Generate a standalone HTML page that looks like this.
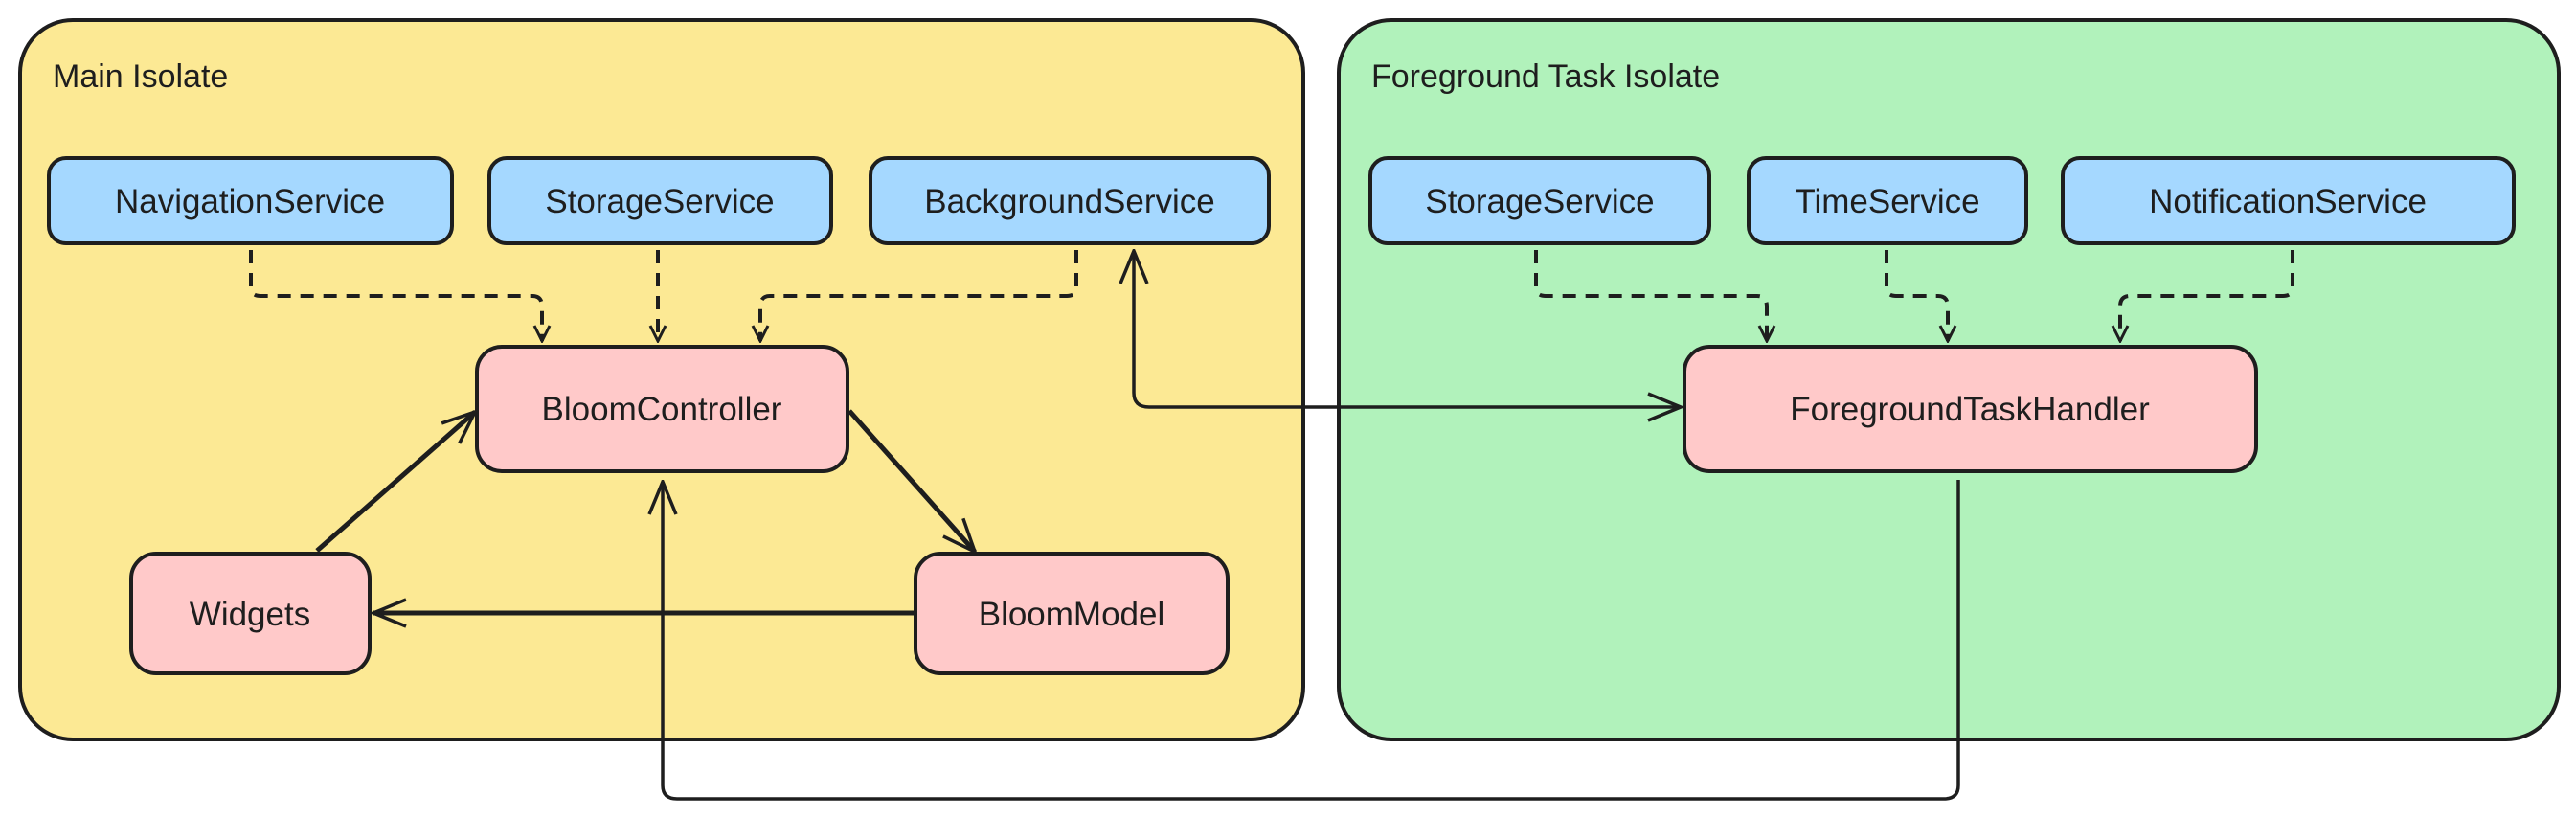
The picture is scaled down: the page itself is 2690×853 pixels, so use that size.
<!DOCTYPE html>
<html><head><meta charset="utf-8"><style>
html,body{margin:0;padding:0;background:#fff;}
svg{display:block}
text{font-family:"Liberation Sans",sans-serif;fill:#1e1e1e;}
</style></head><body>
<svg width="2690" height="853" viewBox="0 0 2690 853" xmlns="http://www.w3.org/2000/svg">
<defs>
<marker id="a" viewBox="0 0 20 20" refX="18" refY="10" markerWidth="20" markerHeight="20" markerUnits="userSpaceOnUse" orient="auto"><path d="M2,2 L18,10 L2,18" fill="none" stroke="#1e1e1e" stroke-width="3"/></marker>
<marker id="b" viewBox="0 0 40 40" refX="38" refY="20" markerWidth="40" markerHeight="40" markerUnits="userSpaceOnUse" orient="auto-start-reverse"><path d="M4,6 L38,20 L4,34" fill="none" stroke="#1e1e1e" stroke-width="3.5"/></marker>
</defs>
<g stroke="#1e1e1e" stroke-width="4">
<rect x="21" y="21" width="1340" height="751" rx="55" fill="#fce994"/>
<rect x="1398" y="21" width="1274" height="751" rx="55" fill="#b1f2bb"/>
<g fill="#a5d8ff">
<rect x="51" y="165" width="421" height="89" rx="18"/>
<rect x="511" y="165" width="357" height="89" rx="18"/>
<rect x="909" y="165" width="416" height="89" rx="18"/>
<rect x="1431" y="165" width="354" height="89" rx="18"/>
<rect x="1826" y="165" width="290" height="89" rx="18"/>
<rect x="2154" y="165" width="471" height="89" rx="18"/>
</g>
<g fill="#ffc9c9">
<rect x="498" y="362" width="387" height="130" rx="26"/>
<rect x="137" y="578" width="249" height="125" rx="26"/>
<rect x="956" y="578" width="326" height="125" rx="26"/>
<rect x="1759" y="362" width="597" height="130" rx="26"/>
</g>
</g>
<g fill="none" stroke="#1e1e1e" stroke-width="4" stroke-dasharray="14 10">
<path d="M262,261 V300 Q262,309 272,309 H556 Q566,309 566,320 V356" marker-end="url(#a)"/>
<path d="M687,261 V356" marker-end="url(#a)"/>
<path d="M1124,261 V300 Q1124,309 1114,309 H804 Q794,309 794,320 V356" marker-end="url(#a)"/>
<path d="M1604,261 V300 Q1604,309 1614,309 H1835 Q1845,309 1845,320 V356" marker-end="url(#a)"/>
<path d="M1970,261 V300 Q1970,309 1980,309 H2024 Q2034,309 2034,320 V356" marker-end="url(#a)"/>
<path d="M2394,261 V300 Q2394,309 2384,309 H2224 Q2214,309 2214,320 V356" marker-end="url(#a)"/>
</g>
<g fill="none" stroke="#1e1e1e" stroke-width="5">
<path d="M331,575 L496,430" marker-end="url(#b)"/>
<path d="M887,429 L1018,576" marker-end="url(#b)"/>
<path d="M956,640 L390,640" marker-end="url(#b)"/>
</g>
<g fill="none" stroke="#1e1e1e" stroke-width="3.5">
<path d="M1184,262 V410 Q1184,425 1200,425 H1755" marker-start="url(#b)" marker-end="url(#b)"/>
<path d="M2045,501 V820 Q2045,834 2030,834 H707 Q692,834 692,820 V503" marker-end="url(#b)"/>
</g>
<g font-size="34">
<text x="55" y="91">Main Isolate</text>
<text x="1432" y="91">Foreground Task Isolate</text>
</g>
<g font-size="35" text-anchor="middle">
<text x="261" y="222">NavigationService</text>
<text x="689" y="222">StorageService</text>
<text x="1117" y="222">BackgroundService</text>
<text x="1608" y="222">StorageService</text>
<text x="1971" y="222">TimeService</text>
<text x="2389" y="222">NotificationService</text>
<text x="691" y="439">BloomController</text>
<text x="261" y="653">Widgets</text>
<text x="1119" y="653">BloomModel</text>
<text x="2057" y="439">ForegroundTaskHandler</text>
</g>
</svg>
</body></html>
